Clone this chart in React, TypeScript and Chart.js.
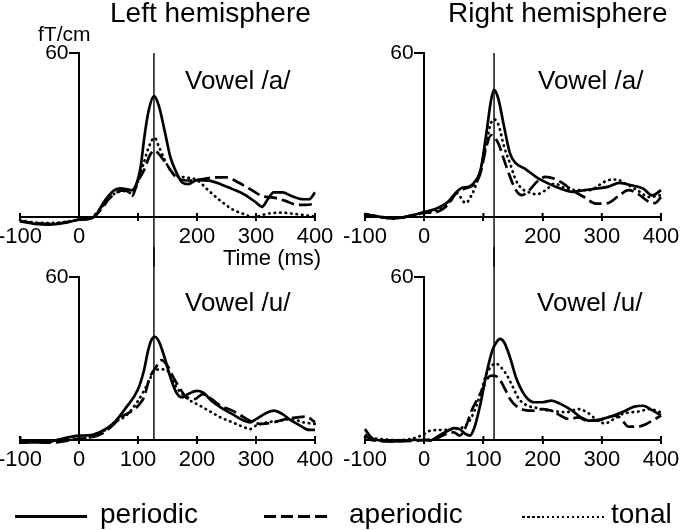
import React, { useEffect, useRef } from 'react';
import { Chart, registerables } from 'chart.js';

Chart.register(...registerables);

const FONT = '"Liberation Sans", Arial, Helvetica, sans-serif';

// ---------- data (time in ms, amplitude in fT/cm) ----------
const X_TICKS = [-100, 0, 100, 200, 300, 400];
const Y_TICKS = [60];
const LEFT_PEAK_MS = 127;
const RIGHT_PEAK_MS = 118;

// Left hemisphere, vowel /a/
const laPeriodicT = [-100, -75, -50, -25, 0, 20, 30, 40, 50, 60, 70, 80, 90, 100, 105, 110, 117, 127, 135, 145, 155, 165, 175, 185, 200, 220, 240, 260, 280, 300, 310, 320, 330, 345, 360, 380, 390, 400];
const laPeriodicV = [-1.6, -2.5, -2.8, -2.2, -1, -0.5, 1, 4.7, 7.7, 9.8, 10.5, 10.2, 9.8, 13.9, 19, 28, 37.8, 44.2, 40.9, 31.7, 21.8, 16.3, 12.6, 12, 13.5, 13.3, 12, 10.2, 8.3, 5.3, 3.7, 6.5, 9, 9, 7.7, 6.5, 6.5, 9];
const laAperiodicT = [-100, -75, -50, -25, 0, 20, 40, 50, 60, 70, 80, 90, 100, 110, 120, 128, 140, 150, 160, 170, 190, 210, 230, 250, 270, 290, 310, 330, 350, 370, 385, 400];
const laAperiodicV = [-1.5, -2.2, -2.5, -2, -1, -0.5, 3.4, 6.5, 8.3, 9.6, 9.6, 7.7, 13.2, 17, 22.5, 24.3, 21.8, 18.8, 15.7, 13.9, 13.3, 13.9, 14.5, 14.5, 12.6, 10.2, 7.7, 7.1, 5.9, 4.4, 4.4, 4.9];
const laTonalT = [-100, -75, -50, -25, 0, 20, 40, 60, 80, 90, 100, 110, 120, 128, 135, 145, 160, 180, 200, 220, 240, 260, 280, 295, 320, 340, 370, 400];
const laTonalV = [-1.2, -2, -2.2, -1.8, -1, -0.3, 4, 8.5, 9.5, 8.5, 13, 20, 26.5, 29, 26, 21, 15.7, 14.5, 13.5, 9.6, 5.9, 2.8, 1, 0, 1.2, 1.6, 1, 0.2];

// Right hemisphere, vowel /a/
const raPeriodicT = [-100, -80, -50, -20, 0, 20, 40, 55, 65, 75, 85, 95, 105, 113, 118, 125, 135, 145, 155, 170, 190, 210, 230, 250, 270, 290, 310, 330, 350, 370, 385, 400];
const raPeriodicV = [1.2, 0.2, -0.4, 0.6, 1.8, 3, 5.5, 9.2, 10.8, 11, 12.8, 17, 30.6, 42.8, 46.5, 43.4, 33, 23.2, 19.6, 17.7, 14.5, 12.2, 10.4, 9.2, 9.8, 10.4, 11, 12.5, 11.6, 10.4, 7.9, 9.8];
const raAperiodicT = [-100, -50, 0, 20, 40, 55, 70, 85, 95, 105, 113, 125, 135, 145, 155, 165, 175, 190, 205, 220, 235, 250, 270, 290, 310, 330, 345, 360, 380, 390, 400];
const raAperiodicV = [1, -0.5, 1.5, 1.8, 4.5, 9, 10.5, 12, 16, 25.7, 30, 27, 20.8, 14.7, 9.8, 8, 9.2, 12.8, 14.7, 14, 12.2, 9.8, 7.3, 4.9, 5.1, 8, 9.8, 8.6, 5.5, 5.1, 7.3];
const raTonalT = [-100, -50, 0, 20, 40, 55, 70, 80, 90, 100, 107, 112, 118, 125, 135, 145, 155, 165, 175, 190, 205, 220, 240, 260, 280, 295, 310, 325, 340, 360, 380, 400];
const raTonalV = [0.5, -0.5, 1.5, 2.5, 5, 8.6, 5.1, 8, 13.4, 22, 29, 34, 35.7, 34, 25.7, 19.6, 13.4, 10.4, 9.2, 8.3, 9.8, 12.2, 10.4, 9.8, 9.8, 11.6, 13.4, 13.7, 12.2, 9.8, 7.3, 8];

// Left hemisphere, vowel /u/
const luPeriodicT = [-100, -50, 0, 20, 40, 60, 80, 100, 110, 117, 122, 128, 135, 145, 155, 165, 175, 185, 200, 210, 225, 240, 260, 280, 290, 300, 320, 330, 345, 360, 375, 390, 400];
const luPeriodicV = [-1, -0.5, 1.6, 1.8, 3.4, 6.5, 12, 18.7, 25.5, 32.8, 36.5, 38, 36.5, 30.4, 23, 17.5, 15.7, 16.9, 18.1, 17.5, 14.4, 12, 9.5, 7.1, 6.5, 7.7, 10.2, 10.8, 9.5, 7.1, 5.3, 3.7, 3.7];
const luAperiodicT = [-100, -50, 0, 20, 40, 60, 70, 80, 90, 100, 110, 120, 130, 140, 150, 160, 170, 180, 195, 210, 225, 240, 260, 280, 295, 310, 330, 350, 370, 385, 400];
const luAperiodicV = [0, -1, 0.5, 1, 2.5, 6, 8.3, 9.5, 10.8, 12.6, 15.7, 23, 26.7, 29.4, 27.3, 23, 19.3, 16.3, 15, 16.9, 15, 12.6, 10.8, 8.3, 6.5, 5.9, 6.5, 7.7, 8.3, 8.6, 6.5];
const luTonalT = [-100, -90, -50, 0, 20, 40, 60, 80, 100, 110, 120, 128, 140, 150, 160, 170, 185, 200, 220, 240, 260, 280, 290, 300, 320, 340, 360, 380, 400];
const luTonalV = [1, -0.5, -0.5, 0.5, 1, 3, 6.5, 9, 14.4, 18.1, 22.4, 25.5, 26, 25.5, 21.2, 18.1, 15, 13.2, 10.8, 8.3, 6.5, 4.7, 4, 5.3, 6.5, 7.1, 7.7, 6.5, 5.9];

// Right hemisphere, vowel /u/
const ruPeriodicT = [-100, -90, -80, -50, -20, 0, 10, 25, 40, 50, 60, 70, 77, 85, 95, 105, 115, 122, 128, 135, 145, 155, 165, 175, 185, 200, 215, 230, 250, 265, 280, 300, 320, 340, 355, 370, 385, 400];
const ruPeriodicV = [4, 1, 0, -0.5, 0, 0, -0.2, 1.6, 3.4, 4.4, 4, 2.2, 1.6, 4.7, 13.3, 24.3, 32.9, 36, 37.2, 36, 30.4, 23, 18.2, 15.1, 13.9, 13.9, 14.5, 13.3, 10.8, 8.3, 7.1, 7.7, 9, 10.8, 12.3, 12.6, 11, 9];
const ruAperiodicT = [-100, -90, -50, 0, 20, 40, 50, 60, 70, 80, 90, 100, 108, 115, 125, 135, 145, 155, 170, 185, 200, 215, 230, 245, 260, 275, 290, 310, 325, 335, 345, 360, 375, 390, 400];
const ruAperiodicV = [2, 0, -0.5, 0, 0.5, 2.5, 2.8, 1.6, 4.7, 10.8, 15.1, 19.4, 23, 23.7, 23, 19.4, 15.1, 12.6, 11, 10.8, 11.4, 10.8, 9, 7.7, 8.3, 7.1, 7.1, 8.3, 9, 7.1, 4.9, 4.9, 5.9, 7.7, 9];
const ruTonalT = [-100, -80, -50, -20, 0, 10, 30, 50, 65, 75, 85, 95, 105, 112, 120, 130, 140, 150, 160, 175, 190, 205, 220, 240, 260, 275, 290, 305, 320, 335, 350, 365, 380, 400];
const ruTonalV = [1, 0.5, 0, 0.5, 2.2, 3.4, 3.7, 4, 4.7, 6.5, 10.8, 16.9, 24.3, 26.7, 28.2, 26.7, 23.7, 19.4, 15.1, 12.6, 11.8, 11, 10.6, 10.2, 11.4, 10.2, 7.7, 6.1, 7.7, 9.6, 10.2, 10.6, 11.4, 10.2];

const SERIES_NAMES = ['periodic', 'aperiodic', 'tonal'];

// ---------- styles / layout ----------
const DASHES: number[][] = [[], [13, 5], [0.5, 5]];
const CAPS = ['butt', 'butt', 'round'];
const PAD_L = 40, PAD_R = 40, PAD_T = 30, PAD_B = 50, XAXIS_H = 40;
const TICK_UP = 4;

type Box = { x: number; y: number; w: number; h: number };

const markerPlugin = {
  id: 'marker',
  afterDatasetsDraw(chart: any, _args: any, opts: any) {
    const { ctx, scales } = chart;
    const px = scales.x.getPixelForValue(opts.ms);
    const top = Math.max(...Y_TICKS);
    const y1 = opts.upper ? scales.y.getPixelForValue(top) : 0;
    const y2 = opts.upper ? chart.height : scales.y.getPixelForValue(0);
    ctx.save();
    ctx.strokeStyle = '#000';
    ctx.lineWidth = 1.4;
    ctx.beginPath();
    ctx.moveTo(px, y1);
    ctx.lineTo(px, y2);
    ctx.stroke();
    // inner half of the x-axis tick marks (ticks cross the axis line)
    const axisY = scales.y.getPixelForValue(0);
    ctx.lineWidth = 2;
    ctx.beginPath();
    scales.x.ticks.forEach((tk: any) => {
      const tx = scales.x.getPixelForValue(tk.value);
      ctx.moveTo(tx, axisY);
      ctx.lineTo(tx, axisY - TICK_UP);
    });
    ctx.stroke();
    ctx.restore();
  },
};

function Panel(props: { box: Box; t: number[][]; v: number[][]; peak: number; upper: boolean }) {
  const { box, t, v, peak, upper } = props;
  const ref = useRef<HTMLCanvasElement>(null);
  const cw = box.w + PAD_L + PAD_R;
  const ch = box.h + PAD_T + PAD_B;
  useEffect(() => {
    const chart = new Chart(ref.current as HTMLCanvasElement, {
      type: 'line',
      data: {
        datasets: t.map((times, i) => ({
          label: SERIES_NAMES[i],
          data: times.map((x, j) => ({ x, y: v[i][j] })),
          borderColor: '#000',
          borderWidth: 2.7,
          borderDash: DASHES[i],
          borderCapStyle: CAPS[i],
          pointRadius: 0,
          cubicInterpolationMode: 'monotone',
          fill: false,
          clip: false,
        })) as any,
      },
      options: {
        responsive: false,
        animation: false,
        events: [],
        layout: { padding: { left: PAD_L, right: PAD_R, top: PAD_T, bottom: PAD_B - XAXIS_H } },
        plugins: {
          legend: { display: false },
          tooltip: { enabled: false },
          marker: { ms: peak, upper },
        } as any,
        scales: {
          x: {
            type: 'linear',
            min: Math.min(...X_TICKS),
            max: Math.max(...X_TICKS),
            position: 'bottom',
            afterBuildTicks: (s: any) => { s.ticks = X_TICKS.map((value) => ({ value })); },
            afterFit: (s: any) => { s.height = XAXIS_H; },
            ticks: {
              color: '#000',
              font: { family: FONT, size: 22 },
              padding: 3,
              maxRotation: 0,
              autoSkip: false,
              callback: (val: any) => (upper && val === 100 ? '' : String(val)),
            },
            grid: { drawOnChartArea: false, drawTicks: true, tickLength: 4, color: '#000', lineWidth: 2 },
            border: { color: '#000', width: 2 },
          },
          y: {
            type: 'linear',
            min: 0,
            max: Math.max(...Y_TICKS),
            position: { x: 0 } as any,
            afterBuildTicks: (s: any) => { s.ticks = Y_TICKS.map((value) => ({ value })); },
            ticks: {
              color: '#000',
              font: { family: FONT, size: 21 },
              padding: 2,
              // label sits right-aligned on the axis line; the trailing en space leaves room for the tick mark
              callback: (val: any) => String(val) + '\u2002',
            },
            grid: { drawOnChartArea: false, drawTicks: true, tickLength: 9, color: '#000', lineWidth: 2 },
            border: { color: '#000', width: 2 },
          },
        },
      },
      plugins: [markerPlugin as any],
    });
    return () => chart.destroy();
  }, []);
  return (
    <canvas
      ref={ref}
      width={cw}
      height={ch}
      style={{ position: 'absolute', left: box.x - PAD_L, top: box.y - PAD_T, width: cw, height: ch }}
    />
  );
}

function Txt(props: { x: number; base: number; size: number; children: React.ReactNode }) {
  const { x, base, size, children } = props;
  return (
    <div
      style={{
        position: 'absolute',
        left: x,
        top: base - 0.8465 * size,
        fontSize: size,
        lineHeight: size + 'px',
        whiteSpace: 'nowrap',
      }}
    >
      {children}
    </div>
  );
}

function LegendLine(props: { x: number; y: number; w: number; h: number; bg: string }) {
  const { x, y, w, h, bg } = props;
  return <div style={{ position: 'absolute', left: x, top: y - h / 2, width: w, height: h, background: bg }} />;
}

export default function App() {
  return (
    <div
      style={{
        position: 'absolute', left: 0, top: 0, width: 685, height: 530, overflow: 'hidden',
        background: '#fff', fontFamily: FONT, color: '#000',
      }}
    >
      <Panel box={{ x: 20, y: 53, w: 295, h: 164 }} t={[laPeriodicT, laAperiodicT, laTonalT]} v={[laPeriodicV, laAperiodicV, laTonalV]} peak={LEFT_PEAK_MS} upper={true} />
      <Panel box={{ x: 365, y: 53, w: 296, h: 164 }} t={[raPeriodicT, raAperiodicT, raTonalT]} v={[raPeriodicV, raAperiodicV, raTonalV]} peak={RIGHT_PEAK_MS} upper={true} />
      <Panel box={{ x: 20, y: 277, w: 295, h: 163 }} t={[luPeriodicT, luAperiodicT, luTonalT]} v={[luPeriodicV, luAperiodicV, luTonalV]} peak={LEFT_PEAK_MS} upper={false} />
      <Panel box={{ x: 365, y: 277, w: 296, h: 163 }} t={[ruPeriodicT, ruAperiodicT, ruTonalT]} v={[ruPeriodicV, ruAperiodicV, ruTonalV]} peak={RIGHT_PEAK_MS} upper={false} />

      <Txt x={110} base={23} size={28}>Left hemisphere</Txt>
      <Txt x={448} base={23} size={28}>Right hemisphere</Txt>
      <Txt x={38} base={41} size={21}>fT/cm</Txt>
      <Txt x={185} base={89} size={26}>Vowel /a/</Txt>
      <Txt x={538} base={89} size={26}>Vowel /a/</Txt>
      <Txt x={223} base={266} size={22}>Time (ms)</Txt>
      <Txt x={185} base={311} size={26}>Vowel /u/</Txt>
      <Txt x={537} base={311} size={26}>Vowel /u/</Txt>

      <LegendLine x={15} y={516} w={72} h={3} bg="#000" />
      <Txt x={100} base={524} size={28}>{SERIES_NAMES[0]}</Txt>
      <LegendLine x={264} y={516} w={68} h={3} bg="repeating-linear-gradient(to right, #000 0px, #000 12px, transparent 12px, transparent 17px)" />
      <Txt x={349} base={524} size={28}>{SERIES_NAMES[1]}</Txt>
      <LegendLine x={522} y={517} w={83} h={2.5} bg="repeating-linear-gradient(to right, #000 0px, #000 2.5px, transparent 2.5px, transparent 5px)" />
      <Txt x={611} base={524} size={28}>{SERIES_NAMES[2]}</Txt>
    </div>
  );
}
